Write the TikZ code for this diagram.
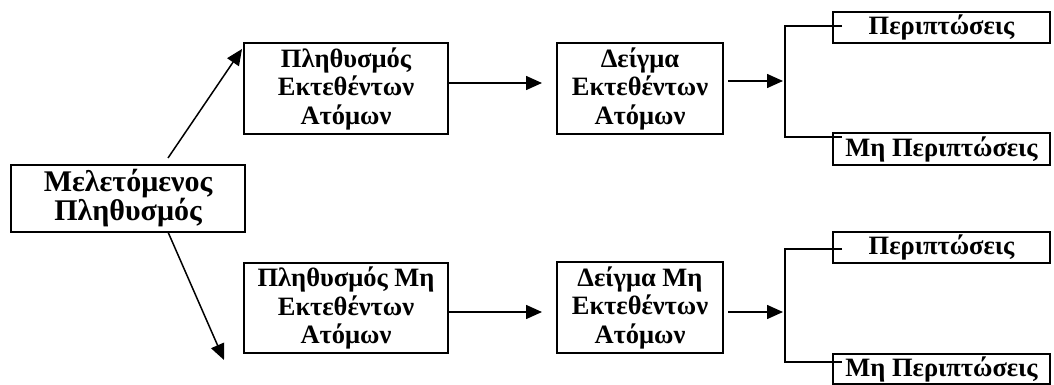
\documentclass[tikz,border=0pt]{standalone}
\usepackage{fontspec}
\setmainfont{Liberation Serif}
\usetikzlibrary{arrows.meta}
\begin{document}
\begin{tikzpicture}[x=1pt,y=-1pt,
  box/.style={draw, line width=2.2pt, inner sep=0pt, align=center,
    font=\bfseries\fontsize{26.5}{28.5}\selectfont},
  arr/.style={line width=1.5pt, -{Triangle[length=16pt,width=14pt]}},
  ln/.style={line width=1.5pt}]
\useasboundingbox (0,0) rectangle (1054,385);

% boxes
\node[box, minimum width=234pt, minimum height=67pt,
  font=\bfseries\fontsize{30}{29}\selectfont] (main) at (128,198.5) {Μελετόμενος\\Πληθυσμός};
\node[box, minimum width=204pt, minimum height=91pt] (pe) at (346,88.5) {Πληθυσμός\\Εκτεθέντων\\Ατόμων};
\node[box, minimum width=204pt, minimum height=90pt] (pm) at (346,308) {Πληθυσμός Μη\\Εκτεθέντων\\Ατόμων};
\node[box, minimum width=166pt, minimum height=91pt] (de) at (640,88.5) {Δείγμα\\Εκτεθέντων\\Ατόμων};
\node[box, minimum width=166pt, minimum height=91pt] (dm) at (640,307.5) {Δείγμα Μη\\Εκτεθέντων\\Ατόμων};
\node[box, minimum width=217pt, minimum height=31pt] (c1) at (941.5,27.5) {Περιπτώσεις};
\node[box, minimum width=217pt, minimum height=32pt] (n1) at (941.5,149) {Μη Περιπτώσεις};
\node[box, minimum width=217pt, minimum height=31pt] (c2) at (941.5,247.5) {Περιπτώσεις};
\node[box, minimum width=217pt, minimum height=30pt] (n2) at (941.5,369) {Μη Περιπτώσεις};

% free ends
\coordinate (s1) at (168,158);
\coordinate (t1) at (242,49);
\coordinate (s2) at (168,232);
\coordinate (t2) at (224,360);
\coordinate (a1s) at (448,83);
\coordinate (a1t) at (542,83);
\coordinate (a2s) at (448,312);
\coordinate (a2t) at (542,312);
\coordinate (b1s) at (728,81);
\coordinate (b1t) at (783,81);
\coordinate (b2s) at (728,312);
\coordinate (b2t) at (783,312);
\coordinate (k1a) at (785,26);
\coordinate (k1b) at (785,137);
\coordinate (k2a) at (785,249);
\coordinate (k2b) at (785,362);
\coordinate (c1in) at (842,26);
\coordinate (n1in) at (842,137);
\coordinate (c2in) at (842,249);
\coordinate (n2in) at (842,362);

% connectors
\draw[arr] (s1) -- (t1);
\draw[arr] (s2) -- (t2);
\draw[arr] (a1s) -- (a1t);
\draw[arr] (a2s) -- (a2t);
\draw[arr] (b1s) -- (b1t);
\draw[arr] (b2s) -- (b2t);
\draw[ln] (c1in) -- (k1a) -- (k1b) -- (n1in);
\draw[ln] (c2in) -- (k2a) -- (k2b) -- (n2in);
\end{tikzpicture}
\end{document}
